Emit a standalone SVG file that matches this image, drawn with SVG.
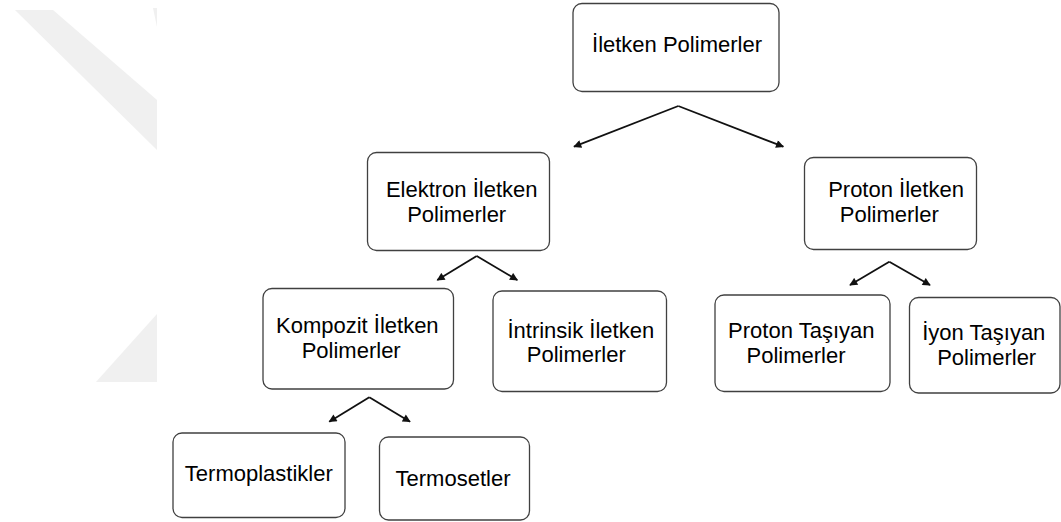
<svg xmlns="http://www.w3.org/2000/svg" width="1061" height="522" viewBox="0 0 1061 522">
<style>
.box{fill:#ffffff;stroke:#404040;stroke-width:1.3}
.t{font-family:"Liberation Sans",Arial,sans-serif;font-size:22px;fill:#000000;text-anchor:middle}
.c{fill:none;stroke:#111111;stroke-width:1.8}
.wm{fill:#f0f0f0}
</style>
<defs>
<marker id="ah" viewBox="0 0 10 10" refX="9" refY="5" markerWidth="10" markerHeight="8" markerUnits="userSpaceOnUse" orient="auto">
<path d="M0,0 L10,5 L0,10 z" fill="#111111"/>
</marker>
</defs>
<rect width="1061" height="522" fill="#ffffff"/>
<g id="watermark">
<polygon class="wm" points="15,10 53,10 157,100 157,150"/>
<polygon class="wm" points="153,8 157,8 157,27"/>
<polygon class="wm" points="96,382 157,314 157,382"/>
</g>
<g id="connectors">
<line class="c" x1="678.3" y1="106" x2="574" y2="146.7" marker-end="url(#ah)"/>
<line class="c" x1="678.3" y1="106" x2="783.3" y2="146.7" marker-end="url(#ah)"/>
<line class="c" x1="476.7" y1="256" x2="437.3" y2="280" marker-end="url(#ah)"/>
<line class="c" x1="476.7" y1="256" x2="517.3" y2="280" marker-end="url(#ah)"/>
<line class="c" x1="889.3" y1="261.7" x2="850" y2="285" marker-end="url(#ah)"/>
<line class="c" x1="889.3" y1="261.7" x2="930" y2="285" marker-end="url(#ah)"/>
<line class="c" x1="369.3" y1="397.3" x2="329.3" y2="421.7" marker-end="url(#ah)"/>
<line class="c" x1="369.3" y1="397.3" x2="410" y2="421.7" marker-end="url(#ah)"/>
</g>
<g id="n-root">
<rect class="box" x="573" y="3.5" width="206" height="88" rx="9"/>
<text class="t" x="677" y="52">İletken Polimerler</text>
</g>
<g id="n-elektron">
<rect class="box" x="367.5" y="152.5" width="182" height="98" rx="9"/>
<text class="t" x="461.7" y="196.7">Elektron İletken</text>
<text class="t" x="456.7" y="221.7">Polimerler</text>
</g>
<g id="n-proton">
<rect class="box" x="804.5" y="157.5" width="172" height="92" rx="9"/>
<text class="t" x="896" y="196.7">Proton İletken</text>
<text class="t" x="889.3" y="221.7">Polimerler</text>
</g>
<g id="n-kompozit">
<rect class="box" x="263" y="288.5" width="190.5" height="100.5" rx="9"/>
<text class="t" x="357.3" y="333.3">Kompozit İletken</text>
<text class="t" x="351.2" y="358">Polimerler</text>
</g>
<g id="n-intrinsik">
<rect class="box" x="493" y="291" width="173.5" height="100.5" rx="9"/>
<text class="t" x="580.8" y="337.7">İntrinsik İletken</text>
<text class="t" x="576.3" y="362.3">Polimerler</text>
</g>
<g id="n-protontasiyan">
<rect class="box" x="715" y="295" width="175" height="96.5" rx="9"/>
<text class="t" x="801.3" y="338.3">Proton Taşıyan</text>
<text class="t" x="796" y="363.3">Polimerler</text>
</g>
<g id="n-iyontasiyan">
<rect class="box" x="909.5" y="297.5" width="150.5" height="95.5" rx="9"/>
<text class="t" x="983.8" y="340">İyon Taşıyan</text>
<text class="t" x="986.7" y="365">Polimerler</text>
</g>
<g id="n-termoplastikler">
<rect class="box" x="173" y="433" width="172" height="84.5" rx="9"/>
<text class="t" x="258.8" y="480.7">Termoplastikler</text>
</g>
<g id="n-termosetler">
<rect class="box" x="379.5" y="437" width="150" height="83" rx="9"/>
<text class="t" x="453" y="486">Termosetler</text>
</g>
</svg>
